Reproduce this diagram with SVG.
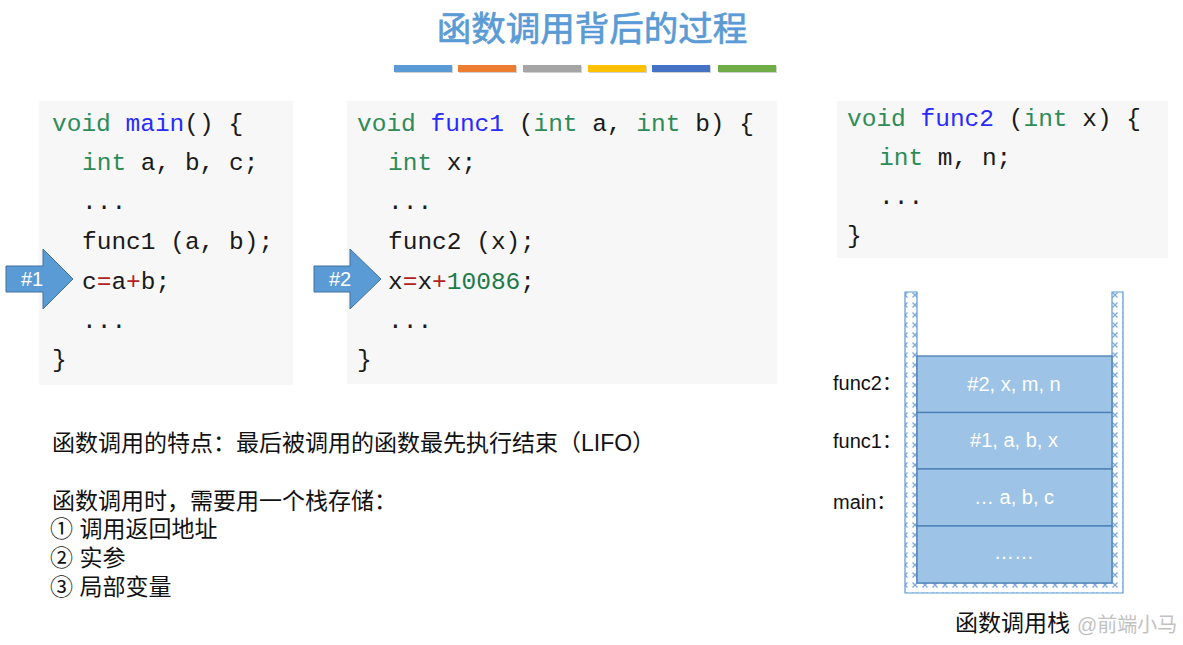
<svg xmlns="http://www.w3.org/2000/svg" width="1183" height="645" viewBox="0 0 1183 645">
<style>
.code{font-family:"Liberation Mono","Courier New",monospace;font-size:24.5px;fill:#1a1a1a;white-space:pre}
.kw{fill:#2e8b57}
.fn{fill:#2a2aff}
.op{fill:#b22222}
.num{fill:#1e7a4a}
.box{fill:#f7f7f7}
.cjk{font-family:"Liberation Sans","Noto Sans CJK SC",sans-serif;font-size:23px;fill:#111}
.lbl{font-family:"Liberation Sans","Noto Sans CJK SC",sans-serif;font-size:20px;fill:#111}
.cell{fill:#9dc3e6;stroke:#4a7eb5;stroke-width:1.3}
.celltxt{font-family:"Liberation Sans","Noto Sans",sans-serif;font-size:20px;fill:#ffffff;text-anchor:middle}
.arrow{fill:#5b9bd5;stroke:#41719c;stroke-width:1}
.arrtxt{font-family:"Liberation Sans","Noto Sans",sans-serif;font-size:20px;fill:#ffffff;text-anchor:middle}
</style>
<defs>
<pattern id="hatch" patternUnits="userSpaceOnUse" width="10" height="10">
<rect width="10" height="10" fill="#ffffff"/>
<path d="M2.5,2.5 L7.5,7.5 M7.5,2.5 L2.5,7.5" stroke="#7fa9dc" stroke-width="1.3"/>
</pattern>
</defs>
<rect width="1183" height="645" fill="#ffffff"/>

<g id="title">
<text x="592" y="41" text-anchor="middle" font-family="'Noto Sans CJK SC',sans-serif" font-size="34.5" font-weight="normal" fill="#5b9bd5" stroke="#5b9bd5" stroke-width="0.7">函数调用背后的过程</text>
<rect x="395" y="66" width="58" height="7" fill="#d0d0d0"/>
<rect x="394" y="65" width="58" height="7" fill="#5b9bd5"/>
<rect x="459" y="66" width="58" height="7" fill="#d0d0d0"/>
<rect x="458" y="65" width="58" height="7" fill="#ed7d31"/>
<rect x="524" y="66" width="58" height="7" fill="#d0d0d0"/>
<rect x="523" y="65" width="58" height="7" fill="#a5a5a5"/>
<rect x="589" y="66" width="58" height="7" fill="#d0d0d0"/>
<rect x="588" y="65" width="58" height="7" fill="#ffc000"/>
<rect x="653" y="66" width="58" height="7" fill="#d0d0d0"/>
<rect x="652" y="65" width="58" height="7" fill="#4472c4"/>
<rect x="719" y="66" width="58" height="7" fill="#d0d0d0"/>
<rect x="718" y="65" width="58" height="7" fill="#70ad47"/>
</g>

<g id="code-main">
<rect class="box" x="39" y="101" width="254" height="284"/>
<text class="code" x="52" y="131"><tspan class="kw">void</tspan> <tspan class="fn">main</tspan>() {</text>
<text class="code" x="82" y="170"><tspan class="kw">int</tspan> a, b, c;</text>
<text class="code" x="82" y="209">...</text>
<text class="code" x="82" y="249">func1 (a, b);</text>
<text class="code" x="82" y="289">c<tspan class="op">=</tspan>a<tspan class="op">+</tspan>b;</text>
<text class="code" x="82" y="328">...</text>
<text class="code" x="52" y="367">}</text>
</g>

<g id="code-func1">
<rect class="box" x="347" y="101" width="430" height="283"/>
<text class="code" x="357" y="131"><tspan class="kw">void</tspan> <tspan class="fn">func1</tspan> (<tspan class="kw">int</tspan> a, <tspan class="kw">int</tspan> b) {</text>
<text class="code" x="388" y="170"><tspan class="kw">int</tspan> x;</text>
<text class="code" x="388" y="209">...</text>
<text class="code" x="388" y="249">func2 (x);</text>
<text class="code" x="388" y="289">x<tspan class="op">=</tspan>x<tspan class="op">+</tspan><tspan class="num">10086</tspan>;</text>
<text class="code" x="388" y="328">...</text>
<text class="code" x="357" y="367">}</text>
</g>

<g id="code-func2">
<rect class="box" x="837" y="101" width="331" height="157"/>
<text class="code" x="847" y="126"><tspan class="kw">void</tspan> <tspan class="fn">func2</tspan> (<tspan class="kw">int</tspan> x) {</text>
<text class="code" x="879" y="165"><tspan class="kw">int</tspan> m, n;</text>
<text class="code" x="879" y="204">...</text>
<text class="code" x="847" y="243">}</text>
</g>

<g id="connectors">
<g id="arrow1">
<polygon class="arrow" points="6,266 43,266 43,249 73,279 43,309 43,292 6,292"/>
<text class="arrtxt" x="32" y="286">#1</text>
</g>
<g id="arrow2">
<polygon class="arrow" points="314,266 350,266 350,249 381,279 350,309 350,292 314,292"/>
<text class="arrtxt" x="340" y="286">#2</text>
</g>
</g>

<g id="notes">
<text class="cjk" x="52" y="451">函数调用的特点：最后被调用的函数最先执行结束（LIFO）</text>
<text class="cjk" x="52" y="509">函数调用时，需要用一个栈存储：</text>
<text class="cjk" x="50" y="537">① 调用返回地址</text>
<text class="cjk" x="50" y="566">② 实参</text>
<text class="cjk" x="50" y="595">③ 局部变量</text>
</g>

<g id="stack">
<path d="M905,292 H917 V583 H1112 V292 H1123 V593 H905 Z" fill="url(#hatch)" stroke="#5b9bd5" stroke-width="1.2"/>
<rect class="cell" x="917" y="356" width="195" height="56.5"/>
<rect class="cell" x="917" y="412.5" width="195" height="56.5"/>
<rect class="cell" x="917" y="469" width="195" height="57"/>
<rect class="cell" x="917" y="526" width="195" height="57"/>
<text class="celltxt" x="1014" y="391">#2, x, m, n</text>
<text class="celltxt" x="1014" y="447">#1, a, b, x</text>
<text class="celltxt" x="1014" y="504">… a, b, c</text>
<text class="celltxt" x="1014" y="559">……</text>
<text class="lbl" x="833" y="390">func2：</text>
<text class="lbl" x="833" y="448">func1：</text>
<text class="lbl" x="833" y="509">main：</text>
<text class="cjk" x="955" y="631">函数调用栈</text>
<text x="1077" y="632" font-family="'Liberation Sans','Noto Sans CJK SC',sans-serif" font-size="20" fill="#999999" opacity="0.6">@前端小马</text>
</g>
</svg>
